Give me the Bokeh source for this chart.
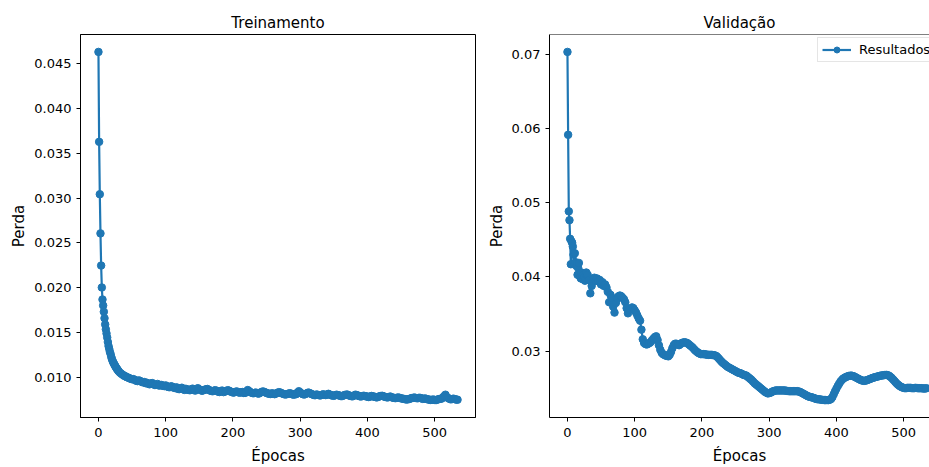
from bokeh.plotting import figure
from bokeh.layouts import row
from bokeh.models import (Range1d, SingleIntervalTicker, PrintfTickFormatter,
                          Legend, LegendItem, Span)
from bokeh.embed import file_html
from bokeh.resources import INLINE

# ---------------------------------------------------------------- data
# Training loss: every epoch up to 29, then every 2nd epoch
train_epochs = list(range(0, 30)) + list(range(30, 535, 2))
train_loss = [
    0.04633, 0.03629, 0.03044, 0.02607, 0.02248, 0.02003, 0.01869, 0.01802, 0.01732, 0.01660,
    0.01591, 0.01536, 0.01490, 0.01445, 0.01395, 0.01350, 0.01318, 0.01285, 0.01262, 0.01230,
    0.01205, 0.01185, 0.01168, 0.01152, 0.01140, 0.01125, 0.01112, 0.01100, 0.01090, 0.01078,
    # epochs 30 .. 534, step 2
    0.01068, 0.01052, 0.01040, 0.01030, 0.01018, 0.01012, 0.01002, 0.00998, 0.00990, 0.00984,
    0.00978, 0.00980, 0.00972, 0.00962, 0.00958, 0.00966, 0.00960, 0.00950, 0.00944, 0.00948,
    0.00935, 0.00940, 0.00928, 0.00922, 0.00932, 0.00936, 0.00922, 0.00914, 0.00918, 0.00926,
    0.00908, 0.00912, 0.00915, 0.00904, 0.00902, 0.00910, 0.00898, 0.00892, 0.00890, 0.00900,
    0.00895, 0.00884, 0.00880, 0.00888, 0.00872, 0.00868, 0.00878, 0.00884, 0.00866, 0.00860,
    0.00872, 0.00864, 0.00860, 0.00856, 0.00868, 0.00874, 0.00858, 0.00852, 0.00872, 0.00878,
    0.00864, 0.00858, 0.00850, 0.00856, 0.00862, 0.00866, 0.00870, 0.00860, 0.00852, 0.00848,
    0.00845, 0.00852, 0.00856, 0.00848, 0.00840, 0.00836, 0.00848, 0.00852, 0.00835, 0.00842,
    0.00846, 0.00856, 0.00852, 0.00842, 0.00838, 0.00830, 0.00832, 0.00840, 0.00842, 0.00834,
    0.00828, 0.00834, 0.00836, 0.00826, 0.00826, 0.00840, 0.00858, 0.00846, 0.00834, 0.00828,
    0.00822, 0.00826, 0.00830, 0.00824, 0.00818, 0.00826, 0.00834, 0.00842, 0.00840, 0.00832,
    0.00826, 0.00820, 0.00816, 0.00814, 0.00822, 0.00818, 0.00812, 0.00820, 0.00826, 0.00834,
    0.00832, 0.00824, 0.00818, 0.00812, 0.00808, 0.00812, 0.00816, 0.00822, 0.00820, 0.00812,
    0.00806, 0.00810, 0.00812, 0.00830, 0.00845, 0.00832, 0.00820, 0.00812, 0.00808, 0.00814,
    0.00822, 0.00830, 0.00826, 0.00816, 0.00810, 0.00804, 0.00800, 0.00808, 0.00806, 0.00800,
    0.00798, 0.00804, 0.00810, 0.00806, 0.00802, 0.00808, 0.00816, 0.00808, 0.00800, 0.00796,
    0.00794, 0.00800, 0.00806, 0.00802, 0.00798, 0.00792, 0.00790, 0.00796, 0.00802, 0.00806,
    0.00808, 0.00800, 0.00794, 0.00790, 0.00788, 0.00796, 0.00806, 0.00802, 0.00796, 0.00790,
    0.00786, 0.00790, 0.00794, 0.00792, 0.00788, 0.00784, 0.00780, 0.00786, 0.00792, 0.00788,
    0.00784, 0.00780, 0.00776, 0.00782, 0.00788, 0.00792, 0.00794, 0.00788, 0.00782, 0.00778,
    0.00776, 0.00780, 0.00786, 0.00778, 0.00772, 0.00770, 0.00768, 0.00772, 0.00776, 0.00770,
    0.00766, 0.00762, 0.00760, 0.00756, 0.00752, 0.00754, 0.00758, 0.00764, 0.00768, 0.00772,
    0.00774, 0.00770, 0.00766, 0.00770, 0.00772, 0.00766, 0.00760, 0.00762, 0.00764, 0.00758,
    0.00754, 0.00750, 0.00748, 0.00750, 0.00752, 0.00748, 0.00746, 0.00752, 0.00756, 0.00760,
    0.00762, 0.00772, 0.00790, 0.00806, 0.00780, 0.00768, 0.00760, 0.00754, 0.00758, 0.00762,
    0.00756, 0.00752, 0.00750,
]

# Validation loss: every epoch up to 29, then every 2nd epoch
val_epochs = list(range(0, 30)) + list(range(30, 535, 2))
val_loss = [
    0.07035, 0.05917, 0.04885, 0.04766, 0.04515, 0.04172, 0.04480, 0.04460, 0.04410, 0.04300,
    0.04175, 0.04320, 0.04200, 0.04150, 0.04180, 0.04030, 0.04120, 0.04190, 0.04050, 0.04000,
    0.03980, 0.04060, 0.04010, 0.03970, 0.04030, 0.04000, 0.03950, 0.04040, 0.04060, 0.04020,
    # epochs 30 .. 534, step 2
    0.04030, 0.03960, 0.03780, 0.03880, 0.03970, 0.03990, 0.03950, 0.03980, 0.03940, 0.03960,
    0.03900, 0.03930, 0.03880, 0.03900, 0.03860, 0.03800, 0.03660, 0.03760, 0.03720, 0.03600,
    0.03520, 0.03650, 0.03710, 0.03740, 0.03750, 0.03740, 0.03720, 0.03700, 0.03660, 0.03580,
    0.03510, 0.03560, 0.03570, 0.03590, 0.03580, 0.03550, 0.03520, 0.03480, 0.03440, 0.03410,
    0.03290, 0.03160, 0.03110, 0.03095,
    0.03090, 0.03100, 0.03110, 0.03125, 0.03150, 0.03170, 0.03190, 0.03200, 0.03150, 0.03080,
    0.03020, 0.02980, 0.02960, 0.02950, 0.02940, 0.02935, 0.02930, 0.02950, 0.02990, 0.03040,
    0.03080, 0.03100, 0.03100, 0.03090, 0.03080, 0.03095, 0.03110, 0.03115, 0.03120, 0.03115,
    0.03110, 0.03095, 0.03080, 0.03065, 0.03050, 0.03030, 0.03010, 0.02995, 0.02980, 0.02970,
    0.02960, 0.02960, 0.02960, 0.02958, 0.02955, 0.02952, 0.02950, 0.02950, 0.02950, 0.02948,
    0.02945, 0.02940, 0.02930, 0.02910, 0.02890, 0.02870, 0.02850, 0.02835, 0.02820, 0.02805,
    0.02790, 0.02780, 0.02770, 0.02760, 0.02750, 0.02740, 0.02730, 0.02720, 0.02710, 0.02705,
    0.02700, 0.02690, 0.02680, 0.02675, 0.02670, 0.02655, 0.02640, 0.02625, 0.02610, 0.02590,
    0.02570, 0.02555, 0.02540, 0.02525, 0.02510, 0.02495, 0.02480, 0.02465, 0.02450, 0.02440,
    0.02430, 0.02435, 0.02440, 0.02450, 0.02460, 0.02465, 0.02470, 0.02470, 0.02470, 0.02470,
    0.02470, 0.02470, 0.02470, 0.02468, 0.02465, 0.02462, 0.02460, 0.02460, 0.02460, 0.02460,
    0.02460, 0.02460, 0.02460, 0.02455, 0.02450, 0.02440, 0.02430, 0.02420, 0.02410, 0.02400,
    0.02390, 0.02385, 0.02380, 0.02375, 0.02370, 0.02362, 0.02355, 0.02352, 0.02350, 0.02348,
    0.02345, 0.02342, 0.02340, 0.02340, 0.02340, 0.02340, 0.02345, 0.02355, 0.02380, 0.02420,
    0.02460, 0.02495, 0.02530, 0.02560, 0.02590, 0.02610, 0.02630, 0.02640, 0.02650, 0.02658,
    0.02665, 0.02668, 0.02670, 0.02665, 0.02660, 0.02650, 0.02640, 0.02630, 0.02620, 0.02612,
    0.02605, 0.02600, 0.02600, 0.02605, 0.02610, 0.02618, 0.02625, 0.02632, 0.02640, 0.02645,
    0.02650, 0.02655, 0.02660, 0.02665, 0.02670, 0.02672, 0.02675, 0.02678, 0.02680, 0.02676,
    0.02670, 0.02655, 0.02640, 0.02620, 0.02600, 0.02580, 0.02560, 0.02545, 0.02530, 0.02520,
    0.02510, 0.02505, 0.02500, 0.02502, 0.02505, 0.02505, 0.02505, 0.02502, 0.02500, 0.02502,
    0.02505, 0.02502, 0.02500, 0.02500, 0.02500, 0.02498, 0.02495, 0.02497, 0.02500,
]

assert len(train_epochs) == len(train_loss)
assert len(val_epochs) == len(val_loss)

titles = ["Treinamento", "Validação"]
x_label = "Épocas"
y_label = "Perda"
legend_label = "Resultados"

# ---------------------------------------------------------------- style
BLUE = "#1f77b4"
FONT = "DejaVu Sans"
FRAME_W = 395          # full frame width of each panel
RIGHT_VISIBLE_W = 380  # part of the second panel that fits in the page


def padded(lo, hi, frac=0.05):
    pad = (hi - lo) * frac
    return lo - pad, hi + pad


def make_panel(title, epochs, loss, width, border_left, border_right,
               frame_w, y_step, y_fmt):
    x0, x1 = padded(min(epochs), max(epochs))
    # keep the same pixels-per-epoch scale for a clipped panel
    x1 = x0 + (x1 - x0) * frame_w / FRAME_W
    y0, y1 = padded(min(loss), max(loss))

    p = figure(width=width, height=467, output_backend="svg",
               toolbar_location=None,
               x_range=Range1d(x0, x1), y_range=Range1d(y0, y1),
               min_border_left=border_left, min_border_right=border_right,
               min_border_top=34, min_border_bottom=47,
               title=title)
    p.background_fill_color = "white"
    p.border_fill_color = "white"
    p.grid.visible = False

    p.title.align = "center"
    p.title.text_font = FONT
    p.title.text_font_size = "15px"
    p.title.text_font_style = "normal"
    p.title.text_color = "black"
    p.title.standoff = 6

    p.xaxis.ticker = SingleIntervalTicker(interval=100, num_minor_ticks=0)
    p.yaxis.ticker = SingleIntervalTicker(interval=y_step, num_minor_ticks=0)
    p.yaxis.formatter = PrintfTickFormatter(format=y_fmt)
    p.xaxis.axis_label = x_label
    p.yaxis.axis_label = y_label
    for ax in (p.xaxis, p.yaxis):
        ax.axis_line_color = "black"
        ax.axis_line_width = 1
        ax.major_tick_line_color = "black"
        ax.major_tick_line_width = 1
        ax.major_tick_out = 4
        ax.major_tick_in = 0
        ax.minor_tick_line_color = None
        ax.major_label_text_font = FONT
        ax.major_label_text_font_size = "13px"
        ax.major_label_text_color = "black"
        ax.major_label_standoff = 5
        ax.axis_label_text_font = FONT
        ax.axis_label_text_font_size = "15px"
        ax.axis_label_text_font_style = "normal"
        ax.axis_label_text_color = "black"
    p.yaxis.axis_label_standoff = 3
    p.xaxis.axis_label_standoff = 7
    p.xaxis.major_label_standoff = 6

    line = p.line(epochs, loss, line_color=BLUE, line_width=2.2)
    dots = p.scatter(epochs, loss, size=7.5, fill_color=BLUE, line_color=BLUE)
    return p, line, dots, y1


left, _, _, _ = make_panel(titles[0], train_epochs, train_loss,
                           width=481, border_left=80, border_right=6,
                           frame_w=FRAME_W, y_step=0.005, y_fmt="%.3f")
left.outline_line_color = "black"
left.outline_line_width = 1

right, r_line, r_dots, r_top = make_panel(titles[1], val_epochs, val_loss,
                                          width=448, border_left=68,
                                          border_right=0,
                                          frame_w=RIGHT_VISIBLE_W,
                                          y_step=0.01, y_fmt="%.2f")
# the panel continues past the page edge: draw only the top spine
right.outline_line_color = None
right.add_layout(Span(location=r_top, dimension="width",
                      line_color="black", line_width=1))

legend = Legend(items=[LegendItem(label=legend_label,
                                  renderers=[r_line, r_dots])],
                location=(268, 355))
legend.label_text_font = FONT
legend.label_text_font_size = "13px"
legend.label_text_color = "black"
legend.glyph_width = 29
legend.glyph_height = 15
legend.label_height = 15
legend.label_standoff = 8
legend.padding = 4
legend.spacing = 0
legend.margin = 0
legend.border_line_color = "#cccccc"
legend.border_line_width = 1
legend.background_fill_color = "white"
legend.background_fill_alpha = 0.8
right.add_layout(legend)

layout = row(left, right)
open("out.html", "w").write(file_html(layout, INLINE))
